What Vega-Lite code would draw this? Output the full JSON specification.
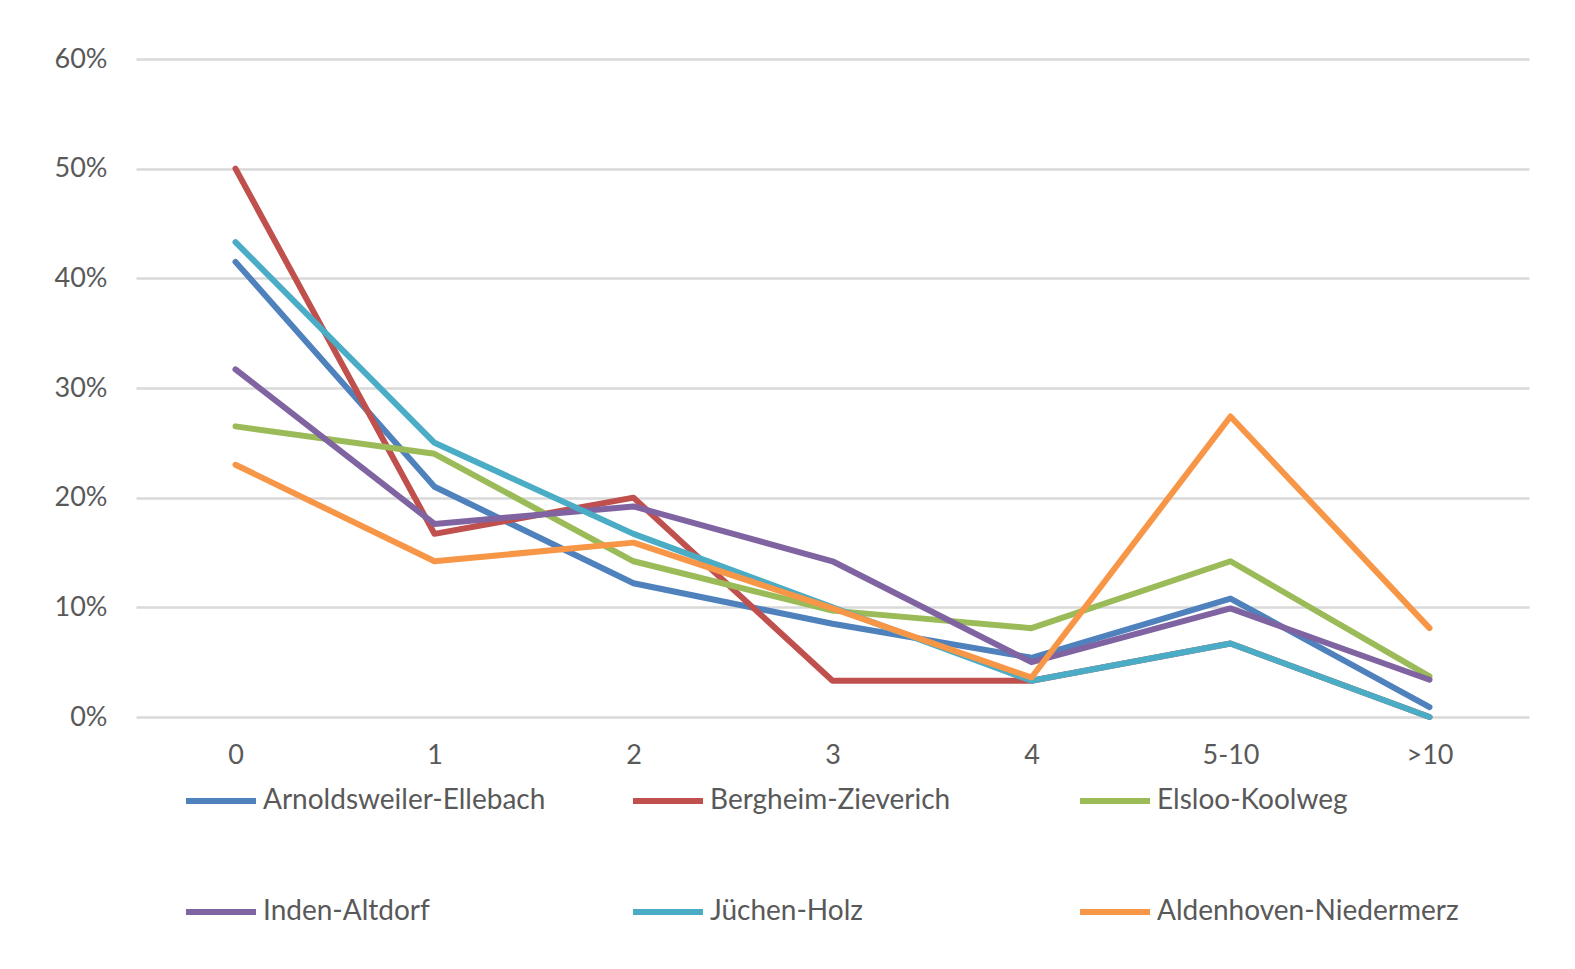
{
  "$schema": "https://vega.github.io/schema/vega-lite/v6.json",
  "autosize": {"type": "none"},
  "width": 1393,
  "height": 658,
  "padding": {"left": 136, "top": 59, "right": 46, "bottom": 252},
  "background": "white",
  "data": {
    "values": [
      {"site": "Arnoldsweiler-Ellebach", "cat": "0", "v": 0.415},
      {"site": "Arnoldsweiler-Ellebach", "cat": "1", "v": 0.21},
      {"site": "Arnoldsweiler-Ellebach", "cat": "2", "v": 0.122},
      {"site": "Arnoldsweiler-Ellebach", "cat": "3", "v": 0.085},
      {"site": "Arnoldsweiler-Ellebach", "cat": "4", "v": 0.054},
      {"site": "Arnoldsweiler-Ellebach", "cat": "5-10", "v": 0.108},
      {"site": "Arnoldsweiler-Ellebach", "cat": ">10", "v": 0.009},
      {"site": "Bergheim-Zieverich", "cat": "0", "v": 0.5},
      {"site": "Bergheim-Zieverich", "cat": "1", "v": 0.167},
      {"site": "Bergheim-Zieverich", "cat": "2", "v": 0.2},
      {"site": "Bergheim-Zieverich", "cat": "3", "v": 0.033},
      {"site": "Bergheim-Zieverich", "cat": "4", "v": 0.033},
      {"site": "Bergheim-Zieverich", "cat": "5-10", "v": 0.067},
      {"site": "Bergheim-Zieverich", "cat": ">10", "v": 0.0},
      {"site": "Elsloo-Koolweg", "cat": "0", "v": 0.265},
      {"site": "Elsloo-Koolweg", "cat": "1", "v": 0.24},
      {"site": "Elsloo-Koolweg", "cat": "2", "v": 0.142},
      {"site": "Elsloo-Koolweg", "cat": "3", "v": 0.097},
      {"site": "Elsloo-Koolweg", "cat": "4", "v": 0.081},
      {"site": "Elsloo-Koolweg", "cat": "5-10", "v": 0.142},
      {"site": "Elsloo-Koolweg", "cat": ">10", "v": 0.037},
      {"site": "Inden-Altdorf", "cat": "0", "v": 0.317},
      {"site": "Inden-Altdorf", "cat": "1", "v": 0.176},
      {"site": "Inden-Altdorf", "cat": "2", "v": 0.192},
      {"site": "Inden-Altdorf", "cat": "3", "v": 0.142},
      {"site": "Inden-Altdorf", "cat": "4", "v": 0.05},
      {"site": "Inden-Altdorf", "cat": "5-10", "v": 0.099},
      {"site": "Inden-Altdorf", "cat": ">10", "v": 0.034},
      {"site": "Jüchen-Holz", "cat": "0", "v": 0.433},
      {"site": "Jüchen-Holz", "cat": "1", "v": 0.25},
      {"site": "Jüchen-Holz", "cat": "2", "v": 0.167},
      {"site": "Jüchen-Holz", "cat": "3", "v": 0.1},
      {"site": "Jüchen-Holz", "cat": "4", "v": 0.033},
      {"site": "Jüchen-Holz", "cat": "5-10", "v": 0.067},
      {"site": "Jüchen-Holz", "cat": ">10", "v": 0.0},
      {"site": "Aldenhoven-Niedermerz", "cat": "0", "v": 0.23},
      {"site": "Aldenhoven-Niedermerz", "cat": "1", "v": 0.142},
      {"site": "Aldenhoven-Niedermerz", "cat": "2", "v": 0.159},
      {"site": "Aldenhoven-Niedermerz", "cat": "3", "v": 0.099},
      {"site": "Aldenhoven-Niedermerz", "cat": "4", "v": 0.036},
      {"site": "Aldenhoven-Niedermerz", "cat": "5-10", "v": 0.274},
      {"site": "Aldenhoven-Niedermerz", "cat": ">10", "v": 0.081}
    ]
  },
  "mark": {"type": "line", "strokeWidth": 6, "strokeCap": "round", "strokeJoin": "round"},
  "encoding": {
    "x": {
      "field": "cat",
      "type": "ordinal",
      "sort": ["0", "1", "2", "3", "4", "5-10", ">10"],
      "scale": {"type": "point", "padding": 0.5},
      "axis": {
        "title": null,
        "labelAngle": 0,
        "ticks": false,
        "domain": false,
        "labelPadding": 25,
        "labelFont": "Lato",
        "labelFontSize": 27,
        "labelColor": "#595959"
      }
    },
    "y": {
      "field": "v",
      "type": "quantitative",
      "scale": {"domain": [0, 0.6], "nice": false, "zero": true},
      "axis": {
        "title": null,
        "format": ".0%",
        "values": [0, 0.1, 0.2, 0.3, 0.4, 0.5, 0.6],
        "ticks": false,
        "domain": false,
        "grid": true,
        "gridColor": "#D9D9D9",
        "gridWidth": 2.5,
        "labelPadding": 29,
        "labelFont": "Lato",
        "labelFontSize": 27,
        "labelColor": "#595959"
      }
    },
    "color": {
      "field": "site",
      "type": "nominal",
      "sort": ["Arnoldsweiler-Ellebach", "Bergheim-Zieverich", "Elsloo-Koolweg", "Inden-Altdorf", "Jüchen-Holz", "Aldenhoven-Niedermerz"],
      "scale": {
        "domain": ["Arnoldsweiler-Ellebach", "Bergheim-Zieverich", "Elsloo-Koolweg", "Inden-Altdorf", "Jüchen-Holz", "Aldenhoven-Niedermerz"],
        "range": ["#4F81BD", "#C0504D", "#9BBB59", "#8064A2", "#4BACC6", "#F79646"]
      },
      "legend": {
        "title": null,
        "orient": "none",
        "legendX": 47,
        "legendY": 704,
        "direction": "horizontal",
        "columns": 3,
        "gridAlign": "all",
        "columnPadding": 56,
        "rowPadding": 59,
        "symbolType": "stroke",
        "symbolSize": 4900,
        "symbolStrokeWidth": 6,
        "labelOffset": 4,
        "labelLimit": 500,
        "labelFont": "Lato",
        "labelFontSize": 28,
        "labelColor": "#595959"
      }
    }
  },
  "config": {
    "view": {"stroke": null}
  }
}
